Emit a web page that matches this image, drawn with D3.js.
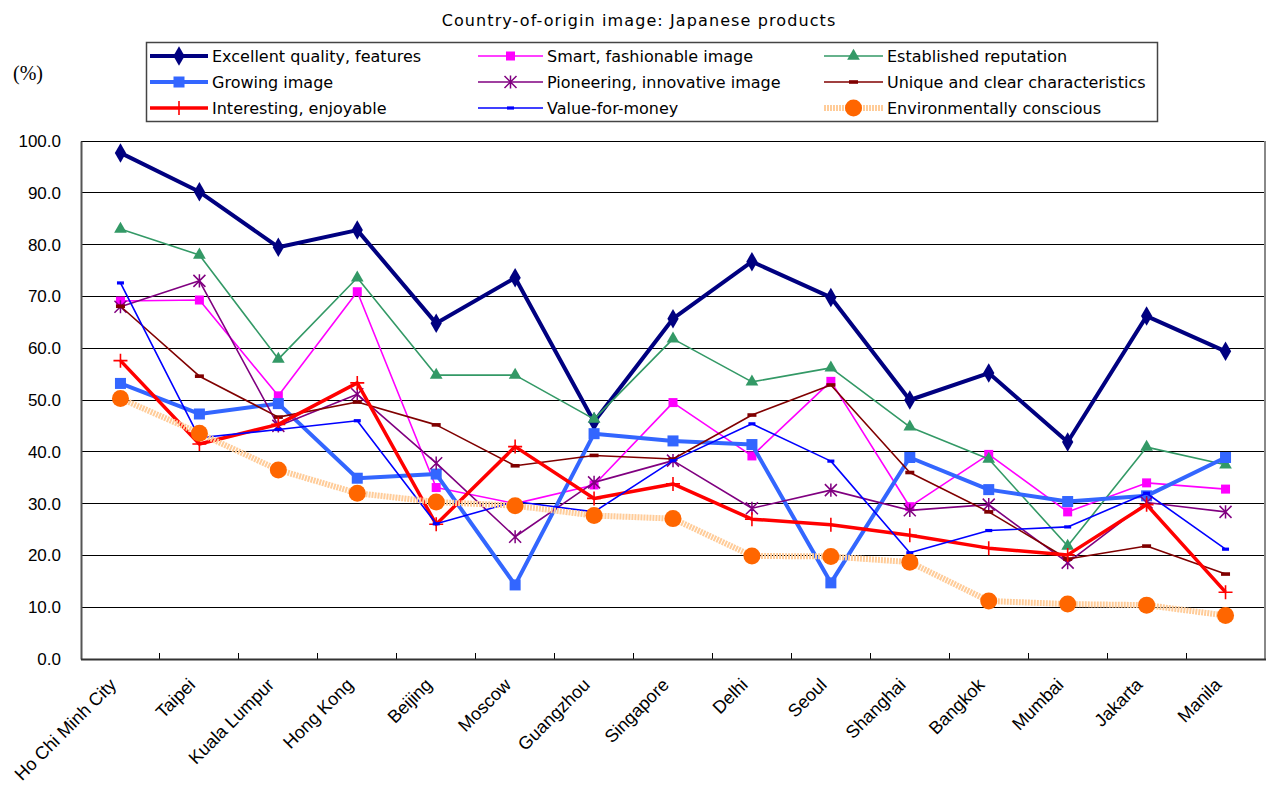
<!DOCTYPE html>
<html>
<head>
<meta charset="utf-8">
<script src="https://cdn.jsdelivr.net/npm/d3@7"></script>
<style>
  html, body { margin: 0; padding: 0; background: #fff; }
  svg { display: block; font-family: "Liberation Sans", Arial, sans-serif; }
</style>
</head>
<body>
<svg id="chart" width="1269" height="787"></svg>
<script>
// Cities surveyed
const cities = ["Ho Chi Minh City", "Taipei", "Kuala Lumpur", "Hong Kong", "Beijing", "Moscow",
  "Guangzhou", "Singapore", "Delhi", "Seoul", "Shanghai", "Bangkok", "Mumbai", "Jakarta", "Manila"];

// Share of respondents (%) per image attribute
const excellentQuality = [97.7, 90.2, 79.5, 82.8, 64.8, 73.6, 45.8, 65.7, 76.7, 69.8, 50.0, 55.2, 41.9, 66.2, 59.4];
const smartFashionable = [69.1, 69.3, 50.8, 70.9, 33.1, 30.0, 33.6, 49.5, 39.2, 53.6, 29.4, 39.5, 28.4, 34.0, 32.8];
const establishedReputation = [83.0, 78.0, 57.9, 73.6, 54.8, 54.8, 46.3, 61.8, 53.5, 56.2, 44.8, 38.6, 21.8, 40.9, 37.5];
const growingImage = [53.2, 47.3, 49.3, 34.9, 35.7, 14.3, 43.5, 42.1, 41.4, 14.7, 38.9, 32.7, 30.4, 31.5, 38.9];
const pioneeringInnovative = [68.0, 73.0, 45.0, 51.1, 37.8, 23.6, 34.1, 38.3, 29.1, 32.6, 28.7, 29.8, 18.6, 30.2, 28.4];
const uniqueCharacteristics = [68.1, 54.6, 46.7, 49.6, 45.2, 37.3, 39.3, 38.6, 47.1, 52.9, 36.0, 28.4, 19.3, 21.8, 16.4];
const interestingEnjoyable = [57.6, 41.5, 45.3, 53.3, 26.0, 41.0, 31.0, 33.8, 27.0, 25.9, 23.9, 21.4, 20.1, 29.8, 12.9];
const valueForMoney = [72.6, 42.7, 44.3, 46.0, 26.1, 30.4, 28.4, 38.3, 45.4, 38.2, 20.5, 24.8, 25.5, 32.0, 21.2];
const environmentallyConscious = [50.3, 43.6, 36.5, 32.0, 30.3, 29.6, 27.7, 27.1, 19.9, 19.8, 18.7, 11.2, 10.6, 10.4, 8.4];

const yTicks = [0, 10, 20, 30, 40, 50, 60, 70, 80, 90, 100];

const series = [
  { name: "Excellent quality, features", values: excellentQuality, color: "#000080", width: 4, marker: "diamond", mcolor: "#000080" },
  { name: "Smart, fashionable image", values: smartFashionable, color: "#FF00FF", width: 1.6, marker: "square", mcolor: "#FF00FF", msize: 9 },
  { name: "Established reputation", values: establishedReputation, color: "#339966", width: 1.6, marker: "triangle", mcolor: "#339966" },
  { name: "Growing image", values: growingImage, color: "#3366FF", width: 4, marker: "square", mcolor: "#3366FF", msize: 11 },
  { name: "Pioneering, innovative image", values: pioneeringInnovative, color: "#800080", width: 1.6, marker: "star", mcolor: "#800080" },
  { name: "Unique and clear characteristics", values: uniqueCharacteristics, color: "#800000", width: 1.6, marker: "dash", mcolor: "#800000" },
  { name: "Interesting, enjoyable", values: interestingEnjoyable, color: "#FF0000", width: 3.5, marker: "plus", mcolor: "#FF0000" },
  { name: "Value-for-money", values: valueForMoney, color: "#0000FF", width: 1.6, marker: "smalldash", mcolor: "#0000FF" },
  { name: "Environmentally conscious", values: environmentallyConscious, color: "#FFCC99", width: 6, dash: "2,1", marker: "circle", mcolor: "#FF6600" }
];

const svg = d3.select("#chart");
const margin = { left: 81, right: 1265, top: 141, bottom: 659 };
const wideFont = "'DejaVu Sans', Verdana, sans-serif";

const x = d3.scaleBand().domain(cities).range([margin.left, margin.right]).paddingInner(0).paddingOuter(0);
const y = d3.scaleLinear().domain([0, 100]).range([margin.bottom, margin.top]);
const cx = c => x(c) + x.bandwidth() / 2;

// Title and unit label
svg.append("text").attr("x", 639).attr("y", 26).attr("text-anchor", "middle")
  .attr("font-size", 16).attr("letter-spacing", 1.1).attr("font-family", wideFont).attr("fill", "#000")
  .text("Country-of-origin image: Japanese products");
svg.append("text").attr("x", 13).attr("y", 80).attr("font-size", 20).attr("fill", "#000")
  .attr("font-family", "'Liberation Serif', serif").text("(%)");

// Gridlines
const grid = svg.append("g");
grid.selectAll("line").data(yTicks).join("line")
  .attr("x1", margin.left).attr("x2", margin.right)
  .attr("y1", d => y(d)).attr("y2", d => y(d))
  .attr("stroke", "#000").attr("stroke-width", 1).attr("shape-rendering", "crispEdges");

// Frame
svg.append("line").attr("x1", margin.right).attr("x2", margin.right).attr("y1", margin.top).attr("y2", margin.bottom)
  .attr("stroke", "#888").attr("stroke-width", 2).attr("shape-rendering", "crispEdges");

// Y axis
const yAxis = d3.axisLeft(y).tickValues(yTicks).tickFormat(d3.format(".1f")).tickSize(0).tickPadding(20);
const gy = svg.append("g").attr("transform", `translate(${margin.left},0)`).call(yAxis);
gy.select(".domain").attr("stroke", "#555").attr("stroke-width", 2);
gy.selectAll("text").attr("font-size", 17).attr("fill", "#000")
  .attr("font-family", "'Liberation Sans', Arial, sans-serif");

// X axis: ticks at category boundaries, pointing up into the plot
const boundaries = cities.slice(1).map(c => x(c));
svg.append("g").selectAll("line").data(boundaries).join("line")
  .attr("x1", d => d).attr("x2", d => d).attr("y1", margin.bottom).attr("y2", margin.bottom - 6)
  .attr("stroke", "#000").attr("stroke-width", 1).attr("shape-rendering", "crispEdges");
svg.append("line").attr("x1", margin.left).attr("x2", margin.right + 1)
  .attr("y1", margin.bottom + 0.5).attr("y2", margin.bottom + 0.5)
  .attr("stroke", "#333").attr("stroke-width", 2);

svg.append("g").selectAll("text").data(cities).join("text")
  .attr("transform", d => `translate(${cx(d) - 3},${margin.bottom + 27}) rotate(-45)`)
  .attr("text-anchor", "end").attr("font-size", 18).attr("fill", "#000").text(d => d);

// Marker drawing helper
function drawMarker(g, s, px, py) {
  const m = g.append("g").attr("transform", `translate(${px},${py})`);
  switch (s.marker) {
    case "diamond":
      m.append("path").attr("d", d3.symbol(d3.symbolDiamond, 110)()).attr("fill", s.mcolor);
      break;
    case "square": {
      const a = s.msize || 10;
      m.append("rect").attr("x", -a / 2).attr("y", -a / 2).attr("width", a).attr("height", a).attr("fill", s.mcolor);
      break;
    }
    case "triangle":
      m.append("path").attr("d", d3.symbol(d3.symbolTriangle, 70)()).attr("fill", s.mcolor);
      break;
    case "circle":
      m.append("circle").attr("r", 8.5).attr("fill", s.mcolor);
      break;
    case "plus":
      m.append("path").attr("d", "M-7,0H7M0,-7V7")
        .attr("stroke", s.mcolor).attr("stroke-width", 1.6).attr("fill", "none");
      break;
    case "star":
      m.append("path").attr("d", "M-6,-6L6,6M-6,6L6,-6M0,-6.6V6.6")
        .attr("stroke", s.mcolor).attr("stroke-width", 1.5).attr("fill", "none");
      break;
    case "dash":
      m.append("rect").attr("x", -4.5).attr("y", -1.8).attr("width", 9).attr("height", 3.6).attr("fill", s.mcolor);
      break;
    case "smalldash":
      m.append("rect").attr("x", -3.5).attr("y", -1.6).attr("width", 7).attr("height", 3.2).attr("fill", s.mcolor);
      break;
  }
}

// Series lines and markers
const line = d3.line().x((d, i) => cx(cities[i])).y(d => y(d));
series.forEach(s => {
  const g = svg.append("g");
  g.append("path").datum(s.values).attr("d", line)
    .attr("fill", "none").attr("stroke", s.color).attr("stroke-width", s.width)
    .attr("stroke-dasharray", s.dash || null).attr("stroke-linejoin", "round");
  s.values.forEach((v, i) => drawMarker(g, s, cx(cities[i]), y(v)));
});

// Legend
const legend = svg.append("g");
legend.append("rect").attr("x", 146.5).attr("y", 42.5).attr("width", 1011).attr("height", 79)
  .attr("fill", "#fff").attr("stroke", "#444").attr("stroke-width", 1.5);
const colX = [150, 478, 824];
const rowY = [56, 82, 108];
series.forEach((s, i) => {
  const col = i % 3, row = Math.floor(i / 3);
  const x0 = colX[col], y0 = rowY[row];
  const len = col === 0 ? 58 : (col === 1 ? 65 : 59);
  const g = legend.append("g");
  g.append("line").attr("x1", x0).attr("x2", x0 + len).attr("y1", y0).attr("y2", y0)
    .attr("stroke", s.color).attr("stroke-width", s.width).attr("stroke-dasharray", s.dash || null);
  drawMarker(g, s, x0 + len / 2, y0);
  g.append("text").attr("x", x0 + len + 4).attr("y", y0 + 6).attr("font-size", 16)
    .attr("font-family", wideFont).attr("fill", "#000").text(s.name);
});
</script>
</body>
</html>
